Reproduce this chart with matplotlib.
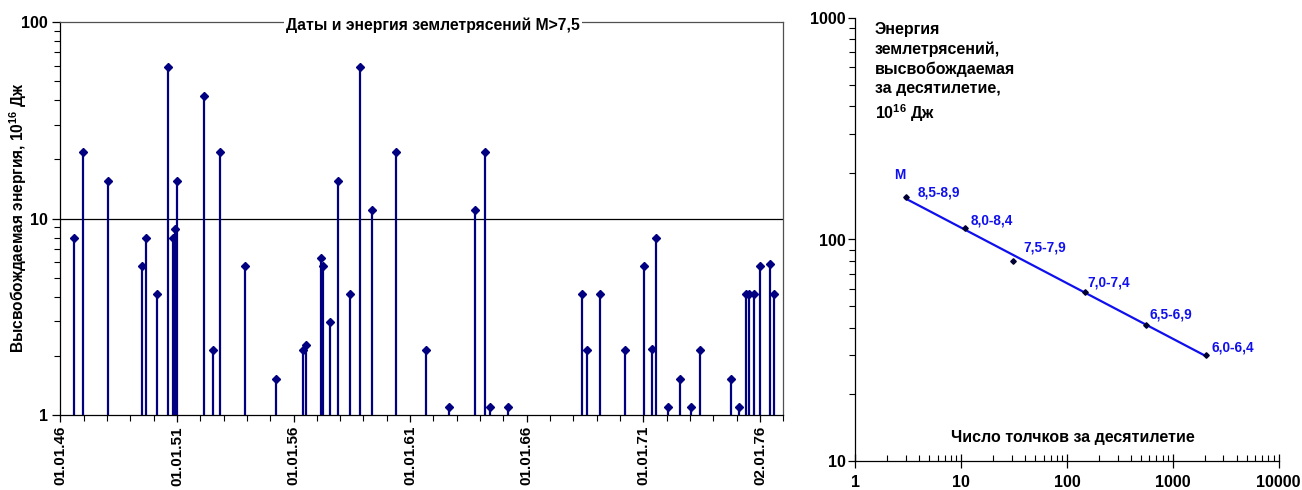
import numpy as np
import matplotlib
matplotlib.use("Agg")
import matplotlib.pyplot as plt
from matplotlib.ticker import FixedLocator, NullFormatter, LogLocator

plt.rcParams['font.family'] = ['Liberation Sans', 'DejaVu Sans']
plt.rcParams['font.weight'] = 'bold'
plt.rcParams['mathtext.fontset'] = 'custom'
plt.rcParams['mathtext.rm'] = 'Liberation Sans:bold'
plt.rcParams['mathtext.bf'] = 'Liberation Sans:bold'
plt.rcParams['mathtext.it'] = 'Liberation Sans:bold'

# ---- left chart data: event dates (decimal years) and energy, 10^16 J ----
quake_years = [1946.60, 1946.96, 1948.04, 1949.51, 1949.66, 1950.16, 1950.60, 1950.82,
               1950.93, 1951.00, 1952.16, 1952.56, 1952.85, 1953.92, 1955.26, 1956.42,
               1956.52, 1957.17, 1957.27, 1957.56, 1957.92, 1958.43, 1958.83, 1959.35,
               1960.40, 1961.66, 1962.67, 1963.78, 1964.22, 1964.43, 1965.20, 1968.37,
               1968.59, 1969.15, 1970.22, 1971.01, 1971.38, 1971.53, 1972.06, 1972.56,
               1973.05, 1973.43, 1974.75, 1975.10, 1975.38, 1975.52, 1975.75, 1976.02,
               1976.42, 1976.60]
quake_energy = [8.0, 21.7, 15.6, 5.74, 8.0, 4.14, 59.0, 8.0,
                8.8, 15.6, 42.2, 2.13, 21.7, 5.74, 1.53, 2.13,
                2.28, 6.29, 5.74, 2.96, 15.6, 4.14, 59.0, 11.1,
                21.7, 2.13, 1.10, 11.1, 21.7, 1.10, 1.10, 4.14,
                2.13, 4.14, 2.13, 5.74, 2.17, 8.0, 1.10, 1.53,
                1.10, 2.13, 1.53, 1.10, 4.14, 4.14, 4.14, 5.74,
                5.88, 4.14]
date_tick_years = [1946, 1951, 1956, 1961, 1966, 1971, 1976]
date_tick_labels = ['01.01.46', '01.01.51', '01.01.56', '01.01.61',
                    '01.01.66', '01.01.71', '02.01.76']
left_title = 'Даты и энергия землетрясений M>7,5'
left_ylabel = 'Высвобождаемая энергия, 10$^{16}$ Дж'

# ---- right chart data ----
shocks_per_decade = [3.0, 10.9, 30.9, 149, 561, 2057]
energy_per_decade = [156, 113, 80.2, 57.8, 41.1, 30.2]
mag_labels = ['8,5-8,9', '8,0-8,4', '7,5-7,9', '7,0-7,4', '6,5-6,9', '6,0-6,4']
right_text = 'Энергия\nземлетрясений,\nвысвобождаемая\nза десятилетие,\n10$^{16}$ Дж'
right_xlabel = 'Число толчков за десятилетие'

W, H = 1302, 490
fig = plt.figure(figsize=(W / 100, H / 100), dpi=100)

navy = '#000080'
fs = 11

# ================= left chart =================
ax = fig.add_axes([60.3 / W, 1 - 415 / H, (783.3 - 60.3) / W, (415 - 22) / H])
ax.set_yscale('log')
ax.set_ylim(1, 100)
ax.set_xlim(1946, 1977.0)
ax.vlines(quake_years, 1, quake_energy, color=navy, lw=1.6)
ax.plot(quake_years, quake_energy, 'D', color=navy, ms=3.8, mec=navy)
ax.axhline(10, color='black', lw=0.9, zorder=0)
ax.set_xticks(date_tick_years)
ax.set_xticklabels(date_tick_labels, rotation=90, fontsize=fs, fontweight='bold')
ax.xaxis.set_minor_locator(FixedLocator(np.arange(1946, 1978, 1)))
ax.tick_params(axis='x', which='major', direction='out', length=5, width=0.9, pad=3)
ax.tick_params(axis='x', which='minor', direction='out', length=4, width=0.8)
ax.set_yticks([1, 10, 100])
ax.set_yticklabels(['1', '10', '100'], fontsize=fs + 0.5, fontweight='bold')
ax.yaxis.set_minor_locator(LogLocator(base=10, subs=np.arange(2, 10)))
ax.yaxis.set_minor_formatter(NullFormatter())
ax.tick_params(axis='y', which='major', direction='out', length=6, width=0.9, pad=3)
ax.tick_params(axis='y', which='minor', direction='out', length=4, width=0.8)
for s in ['top', 'right']:
    ax.spines[s].set_color('#505050')
    ax.spines[s].set_linewidth(0.9)
for s in ['left', 'bottom']:
    ax.spines[s].set_color('black')
    ax.spines[s].set_linewidth(0.9)
ax.text(0.516, 0.993, left_title, transform=ax.transAxes, ha='center', va='center',
        fontsize=fs + 0.3, fontweight='bold',
        bbox=dict(facecolor='white', edgecolor='none', pad=1.5))
fig.text(18 / W, 1 - 218 / H, left_ylabel, rotation=90, ha='center', va='center',
         fontsize=fs + 0.2, fontweight='bold')

# ================= right chart =================
ax2 = fig.add_axes([855.3 / W, 1 - 461 / H, (1278.7 - 855.3) / W, (461 - 18) / H])
ax2.set_xscale('log')
ax2.set_yscale('log')
ax2.set_xlim(1, 10000)
ax2.set_ylim(10, 1000)
lx = np.log10(shocks_per_decade)
ly = np.log10(energy_per_decade)
k, b = np.polyfit(lx, ly, 1)
xfit = np.array([min(shocks_per_decade), max(shocks_per_decade)])
ax2.plot(xfit, 10 ** (b + k * np.log10(xfit)), color='#1010ee', lw=1.6)
ax2.plot(shocks_per_decade, energy_per_decade, 'D', color='#000033', ms=2.8)
offsets = [(8.6, 2.9), (4.3, 5.0), (7.2, 9.4), (1.4, 7.2), (2.2, 7.9), (3.6, 5.0)]
for xv, yv, lab, off in zip(shocks_per_decade, energy_per_decade, mag_labels, offsets):
    ax2.annotate(lab, (xv, yv), xytext=off, textcoords='offset points',
                 color='#1010ee', fontsize=9.8, fontweight='bold', ha='left', va='center')
ax2.annotate('M', (shocks_per_decade[0], energy_per_decade[0]), xytext=(-4.1, 15.6),
             textcoords='offset points', color='#1010ee', fontsize=9.8,
             fontweight='bold', ha='center', va='center')
for s in ['top', 'right']:
    ax2.spines[s].set_visible(False)
for s in ['left', 'bottom']:
    ax2.spines[s].set_linewidth(0.9)
ax2.set_xticks([1, 10, 100, 1000, 10000])
ax2.set_xticklabels(['1', '10', '100', '1000', '10000'], fontsize=fs + 0.5, fontweight='bold')
ax2.set_yticks([10, 100, 1000])
ax2.set_yticklabels(['10', '100', '1000'], fontsize=fs + 0.5, fontweight='bold')
ax2.xaxis.set_minor_locator(LogLocator(base=10, subs=np.arange(2, 10)))
ax2.xaxis.set_minor_formatter(NullFormatter())
ax2.yaxis.set_minor_locator(LogLocator(base=10, subs=np.arange(2, 10)))
ax2.yaxis.set_minor_formatter(NullFormatter())
ax2.tick_params(axis='x', which='major', direction='inout', length=10, width=0.9, pad=5)
ax2.tick_params(axis='x', which='minor', direction='in', length=4, width=0.8)
ax2.tick_params(axis='y', which='major', direction='out', length=5, width=0.9, pad=2)
ax2.tick_params(axis='y', which='minor', direction='out', length=4, width=0.8)
fig.text(875 / W, 1 - 22 / H, right_text, ha='left', va='top', fontsize=fs + 0.5,
         fontweight='bold', linespacing=1.36)
fig.text(1072.5 / W, 1 - 437 / H, right_xlabel, ha='center', va='center',
         fontsize=fs + 0.5, fontweight='bold')

fig.savefig('out.png', dpi=100)
